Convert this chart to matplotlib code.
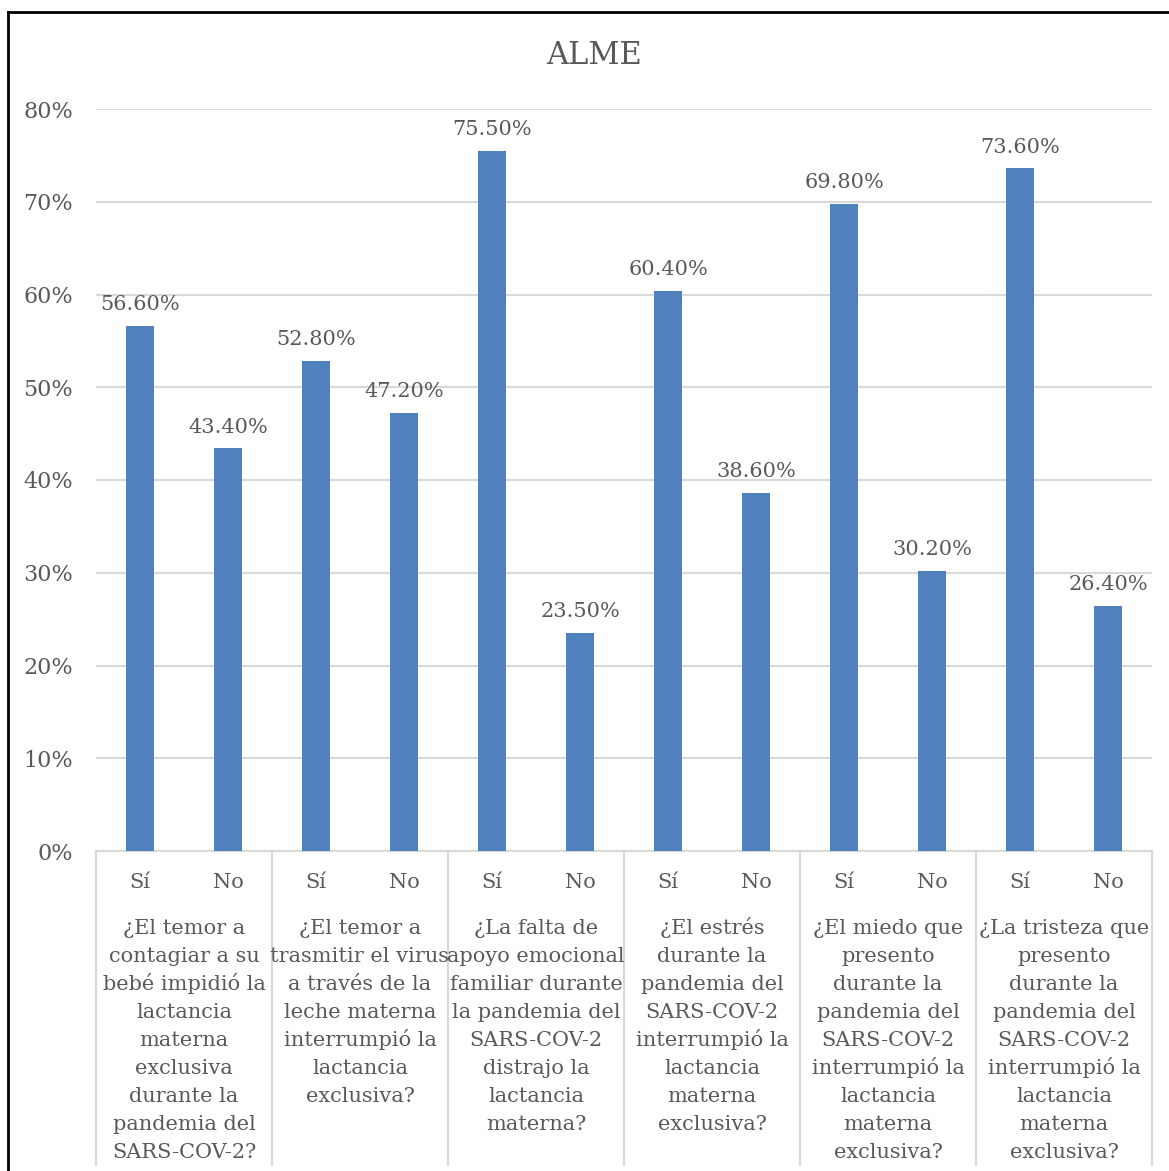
import matplotlib.pyplot as plt
import matplotlib.transforms as mtransforms
from matplotlib.lines import Line2D

title = 'ALME'
answers = ['Sí', 'No']
questions = [
    '¿El temor a\ncontagiar a su\nbebé impidió la\nlactancia\nmaterna\nexclusiva\ndurante la\npandemia del\nSARS-COV-2?',
    '¿El temor a\ntrasmitir el virus\na través de la\nleche materna\ninterrumpió la\nlactancia\nexclusiva?',
    '¿La falta de\napoyo emocional\nfamiliar durante\nla pandemia del\nSARS-COV-2\ndistrajo la\nlactancia\nmaterna?',
    '¿El estrés\ndurante la\npandemia del\nSARS-COV-2\ninterrumpió la\nlactancia\nmaterna\nexclusiva?',
    '¿El miedo que\npresento\ndurante la\npandemia del\nSARS-COV-2\ninterrumpió la\nlactancia\nmaterna\nexclusiva?',
    '¿La tristeza que\npresento\ndurante la\npandemia del\nSARS-COV-2\ninterrumpió la\nlactancia\nmaterna\nexclusiva?',
]
si_values = [0.566, 0.528, 0.755, 0.604, 0.698, 0.736]
no_values = [0.434, 0.472, 0.235, 0.386, 0.302, 0.264]
yticks = [0, 0.1, 0.2, 0.3, 0.4, 0.5, 0.6, 0.7, 0.8]

bar_color = '#4f81bd'
text_color = '#595959'
grid_color = '#d9d9d9'
font = 'DejaVu Serif'
fs = 15

W, H = 1169, 1171
fig = plt.figure(figsize=(W/100, H/100), dpi=100)
ax = fig.add_axes([96/W, 1 - 851/H, (1152-96)/W, (851-109)/H])

values = []
for s, n in zip(si_values, no_values):
    values += [s, n]
x = list(range(len(values)))
ax.bar(x, values, width=0.32, color=bar_color, zorder=3)
for xi, v in zip(x, values):
    ax.annotate(f'{v*100:.2f}%', (xi, v), xytext=(0, 8.5), textcoords='offset points',
                ha='center', va='bottom', fontsize=fs, family=font, color=text_color)

ax.set_xlim(-0.5, len(values) - 0.5)
ax.set_ylim(0, 0.8)
ax.set_yticks(yticks)
ax.set_yticklabels([f'{int(round(t*100))}%' for t in yticks], fontsize=16,
                   family=font, color=text_color)
ax.tick_params(axis='y', length=0, pad=16.5)
ax.set_xticks([])
ax.grid(axis='y', color=grid_color, linewidth=1.5, zorder=0)
for side in ['top', 'left', 'right']:
    ax.spines[side].set_visible(False)
ax.spines['bottom'].set_color(grid_color)
ax.spines['bottom'].set_linewidth(1.5)

# two-level category axis
trans = mtransforms.blended_transform_factory(ax.transData, fig.transFigure)
for xi in x:
    fig.text(xi, 1 - 882/H, answers[xi % 2], transform=trans, ha='center', va='center',
             fontsize=fs, family=font, color=text_color)
for gi, q in enumerate(questions):
    for li, line in enumerate(q.split('\n')):
        fig.text(2*gi + 0.5, 1 - (928 + 28*li)/H, line, transform=trans, ha='center',
                 va='center', fontsize=fs, family=font, color=text_color)
for gi in range(len(questions) + 1):
    xs = 2*gi - 0.5
    fig.add_artist(Line2D([xs, xs], [1 - 851/H, 1 - 1165/H], transform=trans,
                          color=grid_color, linewidth=1.5))

fig.text(594/W, 1 - 56/H, title, ha='center', va='center', fontsize=22,
         family=font, color=text_color)

# chart border
fig.add_artist(Line2D([8/W, 8/W], [0, 1 - 12/H], color='black', linewidth=2))
fig.add_artist(Line2D([8/W, 1], [1 - 12/H, 1 - 12/H], color='black', linewidth=2))

fig.savefig('out.png', dpi=100, facecolor='white')
